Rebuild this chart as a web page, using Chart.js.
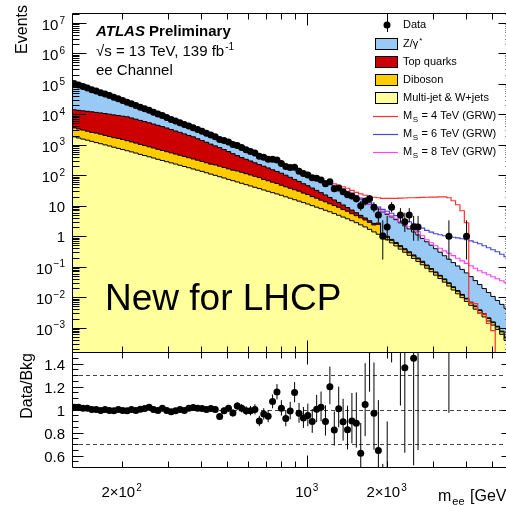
<!DOCTYPE html>
<html>
<head>
<meta charset="utf-8">
<script src="https://cdn.jsdelivr.net/npm/chart.js@4.4.1/dist/chart.umd.min.js"></script>
<style>
  html, body { margin: 0; padding: 0; background: #fff; overflow: hidden; }
  #wrap { width: 506px; height: 505px; overflow: hidden; }
</style>
</head>
<body>
<div id="wrap"><canvas id="myChart" width="520" height="505"></canvas></div>
<script>
// m_ee bin edges [GeV]
const binEdges = [
  130, 135.1, 140.3, 145.8, 151.5, 157.4, 163.6, 170.0, 176.6, 183.5,
  190.7, 198.1, 205.9, 213.9, 222.2, 230.9, 239.9, 249.3, 259.0, 269.1,
  279.6, 290.6, 301.9, 313.7, 326.0, 338.7, 351.9, 365.7, 379.9, 394.8,
  410.2, 426.2, 442.8, 460.1, 478.1, 496.8, 516.2, 536.3, 557.3, 579.0,
  601.6, 625.1, 649.5, 674.9, 701.2, 728.6, 757.1, 786.6, 817.4, 849.3,
  882.4, 916.9, 952.7, 989.9, 1028.5, 1068.7, 1110.4, 1153.8, 1198.9, 1245.7,
  1294.3, 1344.9, 1397.4, 1451.9, 1508.6, 1567.6, 1628.8, 1692.4, 1758.5, 1827.2,
  1898.5, 1972.7, 2049.7, 2129.8, 2212.9, 2299.4, 2389.2, 2482.5, 2579.4, 2680.1,
  2784.8, 2893.6, 3006.6, 3124.0, 3246.0, 3372.8, 3504.5, 3641.4, 3783.6, 3931.4,
  4084.9, 4244.4, 4410.2, 4582.4, 4761.4, 4947.3, 5140.5, 5341.3, 5549.9, 5766.6,
  6000
];

// events per bin
const multijet = [
  1816, 1671, 1538, 1416, 1291, 1180, 1086, 993, 914, 834,
  762, 701, 640, 585, 535, 484, 443, 404, 369, 334,
  305, 279, 255, 233, 213, 194, 177, 161, 147, 134,
  121, 109, 99.3, 89.9, 81.5, 73.3, 66.5, 60.3, 54.7, 49.2,
  44.6, 40.4, 36.6, 33.0, 29.9, 26.9, 24.4, 22.1, 19.7, 17.7,
  15.8, 14.2, 12.7, 11.4, 10.1, 8.99, 8.04, 7.11, 6.35, 5.55,
  4.88, 4.26, 3.75, 3.24, 2.79, 2.37, 2.02, 1.68, 1.39, 1.16,
  0.97, 0.767, 0.608, 0.481, 0.378, 0.299, 0.237, 0.187, 0.149, 0.116,
  0.0893, 0.0686, 0.0530, 0.0410, 0.0313, 0.0233, 0.0173, 0.0130, 0.00971, 0.00728,
  0.00542, 0.00407, 0.00303, 0.00226, 0.00166, 0.00122, 0.000879, 0.000608, 0.000386, 0.000226
];
const diboson = [
  1767, 1626, 1496, 1378, 1256, 1238, 1139, 1042, 959, 875,
  860, 791, 722, 660, 603, 546, 500, 456, 416, 377,
  344, 315, 288, 263, 240, 219, 200, 182, 166, 151,
  136, 123, 120, 109, 98.6, 88.7, 80.5, 78.1, 70.8, 63.7,
  57.8, 52.3, 47.4, 39.9, 36.2, 32.5, 29.5, 24.9, 22.2, 20.0,
  17.8, 16.0, 13.3, 12.0, 9.83, 8.75, 7.23, 6.39, 5.26, 4.60,
  4.05, 3.25, 2.86, 2.26, 1.94, 1.65, 1.41, 1.17, 0.967, 1.31,
  0.202, 0.160, 0.126, 0.100, 0.0786, 0.0622, 0.0493, 0.0389, 0.0310, 0.0241,
  0.0186, 0.0143, 0.0110, 0.00853, 0.00651, 0.00485, 0.00360, 0.00270, 0.00202, 0.00151,
  0.00113, 0.000847, 0.000630, 0.000470, 0.000345, 0.000254, 0.000183, 0.000126, 0.0000803, 0.000047
];
const topQuarks = [
  10470, 10230, 9990, 9760, 9520, 9120, 8890, 8520, 8210, 7850,
  7520, 7170, 6910, 6320, 5780, 5280, 4830, 4410, 3990, 3640,
  3290, 2960, 2630, 2340, 2100, 1860, 1650, 1480, 1270, 1100,
  951, 818, 701, 606, 515, 436, 364, 304, 258, 222,
  192, 164, 140, 125, 108, 92.1, 79.5, 70.2, 58.7, 48.1,
  39.5, 32.6, 26.9, 22.1, 18.2, 14.2, 11.6, 9.06, 7.07, 5.34,
  3.90, 3.12, 2.13, 1.72, 1.20, 0.836, 0.559, 0.390, 0.283, 0.254,
  0.0913, 0.0723, 0.0573, 0.0453, 0.0356, 0.0282, 0.0223, 0.0176, 0.0140, 0.0109,
  0.00583, 0.00448, 0.00346, 0.00267, 0.00204, 0.00152, 0.00113, 0.000848, 0.000633, 0.000475,
  0.000354, 0.000266, 0.000198, 0.000147, 0.000108, 0.0000796, 0.0000574, 0.0000396, 0.0000252, 0.0000147
];
const zGamma = [
  86000, 76000, 67300, 59400, 52400, 46300, 40600, 35800, 31400, 27000,
  23100, 19700, 16800, 14500, 12500, 10800, 9330, 8040, 6950, 5980,
  5090, 4350, 3760, 3230, 2760, 2370, 2030, 1750, 1530, 1350,
  1180, 1040, 904, 787, 692, 613, 546, 478, 420, 367,
  317, 276, 242, 209, 182, 161, 140, 122, 109, 97.4,
  87.2, 77.8, 70.1, 62.1, 54.6, 47.9, 41.8, 36.6, 32.2, 28.3,
  24.9, 21.8, 19.2, 16.1, 13.4, 11.3, 9.44, 7.95, 6.67, 5.04,
  5.04, 4.20, 3.51, 2.87, 2.26, 1.81, 1.44, 1.14, 0.906, 0.699,
  0.546, 0.423, 0.323, 0.248, 0.190, 0.147, 0.115, 0.0894, 0.0697, 0.0537,
  0.0405, 0.0300, 0.0222, 0.0164, 0.0122, 0.00905, 0.00675, 0.00505, 0.00383, 0.00291
];
const dataEvents = [
  102000, 91330, 81150, 72660, 64420, 57810, 51240, 46340, 41090, 36190,
  32210, 28100, 24810, 22080, 19260, 17140, 15250, 13570, 11720, 10230,
  9126, 7828, 6795, 6006, 5309, 4599, 4105, 3636, 3150, 2756,
  2388, 2110, 1824, 1496, 1373, 1223, 1025, 948, 812, 694,
  605, 533, 419, 391, 335, 334, 315, 242, 193, 181,
  184, 136, 114, 102, 83, 80, 70, 53, 61, 36,
  38, 29, 23, 21, 17, 10, 14, 17, 9, 5,
  1, 2, 9, 0, 5, 3, 5, 2, 2, 0,
  0, 0, 0, 0, 0, 1, 0, 0, 0, 1,
  0, 0, 0, 0, 0, 0, 0, 0, 0, 0
];

// signal + background predictions, starting at bin 55
const sigFirstBin = 55;
const ms4Tev = [
  82.8, 74.0, 66.1, 58.9, 52.6, 47.0, 42.0, 37.5, 32.2, 27.7,
  24.7, 22.1, 20.5, 19.0, 18.3, 17.6, 17.6, 17.6, 17.6, 17.9,
  18.0, 18.3, 18.3, 18.6, 18.8, 19.0, 19.1, 19.3, 19.5, 19.5,
  18.3, 14.6, 10.8, 6.86, 2.77, 0.0065, 0.0062, 0.0030, 0.0028, 0.0014,
  0.0008, 0, 0, 0, 0
];
const ms6Tev = [
  81.5, 69.5, 60.3, 52.6, 45.3, 40.5, 34.8, 29.9, 25.1, 21.3,
  17.9, 15.1, 12.7, 10.8, 9.06, 7.67, 6.60, 5.68, 4.77, 4.04,
  3.47, 2.99, 2.57, 2.21, 1.86, 1.57, 1.37, 1.21, 1.12, 1.04,
  0.977, 0.927, 0.879, 0.828, 0.767, 0.711, 0.635, 0.568, 0.488, 0.420,
  0.361, 0.310, 0.257, 0.213, 0.183
];
const ms8Tev = [
  81.4, 70.1, 60.3, 52.0, 44.6, 38.4, 33.1, 28.5, 23.7, 19.7,
  16.5, 13.5, 11.2, 9.27, 7.9, 6.65, 5.55, 4.65, 3.9, 3.0,
  2.47, 2.05, 1.69, 1.41, 1.04, 0.767, 0.612, 0.488, 0.404, 0.334,
  0.277, 0.230, 0.190, 0.157, 0.130, 0.108, 0.0893, 0.0740, 0.0635, 0.0547,
  0.0470, 0.0404, 0.0348, 0.0299, 0.0257
];

// axis ticks
const mainTickPowers = [-3, -2, -1, 0, 1, 2, 3, 4, 5, 6, 7];
const ratioTickValues = [0.6, 0.8, 1, 1.2, 1.4];
const ratioDashed = [0.7, 1, 1.3];
const massLabelTicks = [
  { v: 200, base: '2\u00d710', sup: '2' },
  { v: 1000, base: '10', sup: '3' },
  { v: 2000, base: '2\u00d710', sup: '3' }
];
const massMinorTicks = [200, 300, 400, 500, 600, 700, 800, 900, 2000, 3000, 4000, 5000];
const massMajorTicks = [1000];

const FONT = '"Liberation Sans", Arial, Helvetica, sans-serif';
const fnt = (size, style) => (style ? style + ' ' : '') + size + 'px ' + FONT;

const nBins = binEdges.length - 1;
const centers = [];
const cumY = [], cumO = [], cumR = [], totals = [];
for (let i = 0; i < nBins; i++) {
  centers.push(Math.sqrt(binEdges[i] * binEdges[i + 1]));
  cumY.push(multijet[i]);
  cumO.push(multijet[i] + diboson[i]);
  cumR.push(multijet[i] + diboson[i] + topQuarks[i]);
  totals.push(multijet[i] + diboson[i] + topQuarks[i] + zGamma[i]);
}

const stepPoints = (values, first) => {
  const pts = values.map((v, i) => ({ x: binEdges[first + i], y: v > 0 ? v : 1e-9 }));
  pts.push({ x: binEdges[first + values.length], y: pts[pts.length - 1].y });
  return pts;
};

// Gehrels approximation of the Poisson 68% interval
const poissonErr = (n) => {
  const up = Math.sqrt(n + 0.75) + 1;
  const lowLim = n * Math.pow(1 - 1 / (9 * n) - 1 / (3 * Math.sqrt(n)), 3);
  return { up: up, low: n - lowLim };
};

const layer = (label, values, color) => ({
  label: label, data: stepPoints(values, 0), yAxisID: 'y',
  stepped: 'before', fill: 'start', backgroundColor: color,
  borderColor: '#000', borderWidth: 1, pointRadius: 0, clip: 0
});
const sigLine = (label, values, color) => ({
  label: label, data: stepPoints(values, sigFirstBin), yAxisID: 'y',
  stepped: 'before', fill: false, borderColor: color, borderWidth: 1.2,
  pointRadius: 0, clip: 0
});

const COL_Z = '#99c9f5', COL_TOP = '#cc0000', COL_DIB = '#ffcc00', COL_MJ = '#ffff9c';
const COL_S4 = '#ff3030', COL_S6 = '#4646d8', COL_S8 = '#ff40ff';

function textSup(ctx, base, sup, x, y, size, align) {
  ctx.font = fnt(size);
  const wb = ctx.measureText(base).width;
  const ss = Math.round(size * 0.66);
  ctx.font = fnt(ss);
  const ws = sup ? ctx.measureText(sup).width + 1 : 0;
  let x0 = x;
  if (align === 'right') x0 = x - wb - ws;
  else if (align === 'center') x0 = x - (wb + ws) / 2;
  ctx.textAlign = 'left';
  ctx.font = fnt(size);
  ctx.fillText(base, x0, y);
  if (sup) {
    ctx.font = fnt(ss);
    ctx.fillText(sup, x0 + wb + 1, y - size * 0.42);
  }
}

const atlasDecor = {
  id: 'atlasDecor',
  beforeDatasetsDraw(chart) {
    const { ctx, scales: { x, yr } } = chart;
    ctx.save();
    ctx.strokeStyle = '#444';
    ctx.lineWidth = 1;
    ctx.setLineDash([4, 3]);
    ctx.beginPath();
    ratioDashed.forEach(v => {
      const py = Math.round(yr.getPixelForValue(v)) + 0.5;
      ctx.moveTo(x.left, py); ctx.lineTo(x.right, py);
    });
    ctx.stroke();
    ctx.restore();
  },
  afterDatasetsDraw(chart) {
    const { ctx, scales: { x, y, yr } } = chart;
    ctx.save();
    ctx.strokeStyle = '#000';
    ctx.lineWidth = 1;
    [[y, false], [yr, true]].forEach(([sc, ratio]) => {
      ctx.save();
      ctx.beginPath();
      ctx.rect(x.left, sc.top, x.right - x.left, sc.bottom - sc.top);
      ctx.clip();
      ctx.beginPath();
      for (let i = 0; i < nBins; i++) {
        const n = dataEvents[i];
        if (!(n > 0)) continue;
        const e = poissonErr(n);
        const k = ratio ? 1 / totals[i] : 1;
        const px = x.getPixelForValue(centers[i]);
        const hi = sc.getPixelForValue((n + e.up) * k);
        const lo = sc.getPixelForValue((n - e.low) * k);
        ctx.moveTo(px, hi); ctx.lineTo(px, lo);
      }
      ctx.stroke();
      ctx.restore();
    });
    ctx.restore();
  },
  afterDraw(chart) {
    const { ctx, scales: { x, y, yr } } = chart;
    const L = Math.round(x.left) + 0.5, R = Math.round(x.right) - 0.5;
    ctx.save();
    ctx.strokeStyle = '#000';
    ctx.fillStyle = '#000';
    ctx.lineWidth = 1;
    ctx.beginPath();
    // frames
    [y, yr].forEach(sc => {
      const T = Math.round(sc.top) + 0.5, B = Math.round(sc.bottom) + 0.5;
      ctx.moveTo(L, T); ctx.lineTo(R, T); ctx.lineTo(R, B); ctx.lineTo(L, B); ctx.closePath();
      // x ticks on top and bottom of each pad
      const xt = (v, len) => {
        const px = Math.round(x.getPixelForValue(v)) + 0.5;
        ctx.moveTo(px, T); ctx.lineTo(px, T + len);
        ctx.moveTo(px, B); ctx.lineTo(px, B - len);
      };
      massMinorTicks.forEach(v => xt(v, 6));
      massMajorTicks.forEach(v => xt(v, 12));
    });
    // main y ticks
    const yt = (sc, v, len) => {
      const py = Math.round(sc.getPixelForValue(v)) + 0.5;
      ctx.moveTo(L, py); ctx.lineTo(L + len, py);
      ctx.moveTo(R, py); ctx.lineTo(R - len, py);
    };
    for (let d = -4; d <= 7; d++) {
      for (let m = 1; m <= 9; m++) {
        const v = m * Math.pow(10, d);
        if (v < y.min || v > y.max) continue;
        yt(y, v, m === 1 ? 14 : 7);
      }
    }
    // ratio y ticks
    for (let v = 0.55; v < 1.5; v += 0.05) {
      const vv = Math.round(v * 100) / 100;
      const major = ratioTickValues.some(t => Math.abs(t - vv) < 1e-6);
      yt(yr, vv, major ? 11 : 6);
    }
    ctx.stroke();

    // tick labels
    ctx.textBaseline = 'alphabetic';
    mainTickPowers.forEach(p => {
      const py = y.getPixelForValue(Math.pow(10, p));
      if (p === 0) textSup(ctx, '1', '', 65, py + 6, 15, 'right');
      else if (p === 1) textSup(ctx, '10', '', 65, py + 6, 15, 'right');
      else textSup(ctx, '10', p < 0 ? '\u2212' + (-p) : String(p), 65, py + 7, 15, 'right');
    });
    ratioTickValues.forEach(v => {
      const py = yr.getPixelForValue(v);
      textSup(ctx, String(v), '', 65, py + 6, 15, 'right');
    });
    massLabelTicks.forEach(t => {
      textSup(ctx, t.base, t.sup, x.getPixelForValue(t.v), 497, 15, 'center');
    });

    // axis titles
    ctx.save();
    ctx.translate(27, 5);
    ctx.rotate(-Math.PI / 2);
    ctx.textAlign = 'right';
    ctx.font = fnt(16);
    ctx.fillText('Events', 0, 0);
    ctx.restore();
    ctx.save();
    ctx.translate(32, 353);
    ctx.rotate(-Math.PI / 2);
    ctx.textAlign = 'right';
    ctx.font = fnt(16);
    ctx.fillText('Data/Bkg', 0, 0);
    ctx.restore();
    ctx.textAlign = 'left';
    ctx.font = fnt(16);
    ctx.fillText('m', 438, 501);
    let w = ctx.measureText('m').width;
    ctx.font = fnt(11);
    ctx.fillText('ee', 438 + w + 1, 505);
    const w2 = ctx.measureText('ee').width;
    ctx.font = fnt(16);
    ctx.fillText(' [GeV]', 438 + w + w2 + 2, 501);

    // ATLAS label
    ctx.font = fnt(15, 'italic bold');
    ctx.fillText('ATLAS', 96, 36);
    w = ctx.measureText('ATLAS').width;
    ctx.font = fnt(15, 'bold');
    ctx.fillText(' Preliminary', 96 + w, 36);
    textSup(ctx, '\u221As = 13 TeV, 139 fb', '-1', 96, 56, 15, 'left');
    ctx.font = fnt(15);
    ctx.fillText('ee Channel', 96, 75);

    ctx.font = fnt(37);
    ctx.fillText('New for LHCP', 105, 310);

    // legend
    const rows = [25, 43.5, 62, 80, 98, 116, 134, 152];
    const tx = 403;
    ctx.textBaseline = 'middle';
    ctx.beginPath();
    ctx.arc(387, rows[0], 3.5, 0, 2 * Math.PI);
    ctx.fill();
    ctx.beginPath();
    ctx.moveTo(387.5, rows[0] - 7); ctx.lineTo(387.5, rows[0] + 7);
    ctx.stroke();
    ctx.font = fnt(11);
    ctx.fillText('Data', tx, rows[0]);
    const boxes = [[COL_Z, 1], [COL_TOP, 2], [COL_DIB, 3], [COL_MJ, 4]];
    boxes.forEach(([c, r]) => {
      ctx.fillStyle = c;
      ctx.fillRect(375, Math.round(rows[r] - 6), 23, 12);
      ctx.strokeStyle = '#000';
      ctx.strokeRect(375.5, Math.round(rows[r] - 6) + 0.5, 22, 11);
    });
    ctx.fillStyle = '#000';
    ctx.font = fnt(11);
    ctx.fillText('Z/\u03b3', tx, rows[1]);
    w = ctx.measureText('Z/\u03b3').width;
    ctx.font = fnt(8);
    ctx.fillText('*', tx + w + 1, rows[1] - 3);
    ctx.font = fnt(11);
    ctx.fillText('Top quarks', tx, rows[2]);
    ctx.fillText('Diboson', tx, rows[3]);
    ctx.fillText('Multi-jet & W+jets', tx, rows[4]);
    [[COL_S4, 5, '4'], [COL_S6, 6, '6'], [COL_S8, 7, '8']].forEach(([c, r, m]) => {
      ctx.strokeStyle = c;
      ctx.lineWidth = 1.2;
      ctx.beginPath();
      ctx.moveTo(373, Math.round(rows[r]) + 0.5); ctx.lineTo(398, Math.round(rows[r]) + 0.5);
      ctx.stroke();
      ctx.font = fnt(11);
      ctx.fillText('M', tx, rows[r]);
      const wm = ctx.measureText('M').width;
      ctx.font = fnt(8);
      ctx.fillText('S', tx + wm + 0.5, rows[r] + 4);
      const wsub = ctx.measureText('S').width;
      ctx.font = fnt(11);
      ctx.fillText(' = ' + m + ' TeV (GRW)', tx + wm + wsub + 1, rows[r]);
    });
    ctx.restore();
  }
};

const ctx = document.getElementById('myChart');
new Chart(ctx, {
  type: 'line',
  data: {
    datasets: [
      {
        label: 'Data', yAxisID: 'y', showLine: false, clip: 0,
        data: centers.map((c, i) => ({ x: c, y: dataEvents[i] > 0 ? dataEvents[i] : null })),
        pointRadius: 3.5, pointBackgroundColor: '#000', pointBorderColor: '#000', pointBorderWidth: 0
      },
      {
        label: 'Data/Bkg', yAxisID: 'yr', showLine: false, clip: 0,
        data: centers.map((c, i) => ({ x: c, y: dataEvents[i] > 0 ? dataEvents[i] / totals[i] : null })),
        pointRadius: 3.5, pointBackgroundColor: '#000', pointBorderColor: '#000', pointBorderWidth: 0
      },
      sigLine('M_S = 4 TeV (GRW)', ms4Tev, COL_S4),
      sigLine('M_S = 6 TeV (GRW)', ms6Tev, COL_S6),
      sigLine('M_S = 8 TeV (GRW)', ms8Tev, COL_S8),
      layer('Multi-jet & W+jets', cumY, COL_MJ),
      layer('Diboson', cumO, COL_DIB),
      layer('Top quarks', cumR, COL_TOP),
      layer('Z/gamma*', totals, COL_Z)
    ]
  },
  options: {
    responsive: false,
    animation: false,
    events: [],
    layout: { padding: { left: 0, right: 7, top: 13, bottom: 0 } },
    plugins: { legend: { display: false }, tooltip: { enabled: false } },
    scales: {
      x: {
        type: 'logarithmic', min: 130, max: 6000, position: 'bottom',
        ticks: { display: false }, grid: { display: false, drawTicks: false }, border: { display: false },
        afterFit: (s) => { s.height = 38; }
      },
      yr: {
        type: 'linear', min: 0.5, max: 1.5, position: 'left', stack: 'pads', stackWeight: 115,
        ticks: { display: false }, grid: { display: false, drawTicks: false }, border: { display: false },
        afterFit: (s) => { s.width = 72; }
      },
      y: {
        type: 'logarithmic', min: 1.6e-4, max: 2.1e7, position: 'left', stack: 'pads', stackWeight: 339,
        ticks: { display: false }, grid: { display: false, drawTicks: false }, border: { display: false },
        afterFit: (s) => { s.width = 72; }
      }
    }
  },
  plugins: [atlasDecor]
});
</script>
</body>
</html>
